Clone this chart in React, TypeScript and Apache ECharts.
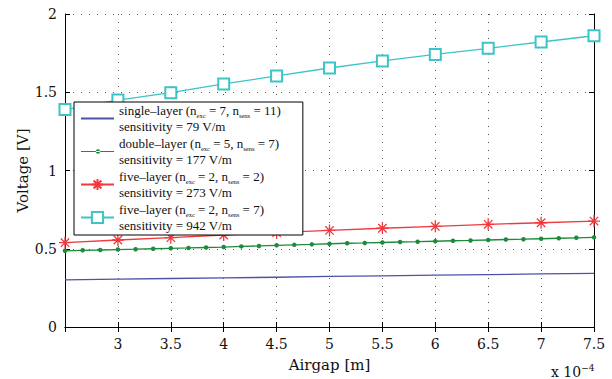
import React, { useEffect, useRef } from "react";
import * as echarts from "echarts";

const xMain = [2.5, 3, 3.5, 4, 4.5, 5, 5.5, 6, 6.5, 7, 7.5];
const xDense = [2.5, 2.667, 2.833, 3, 3.167, 3.333, 3.5, 3.667, 3.833, 4, 4.167, 4.333, 4.5, 4.667, 4.833, 5, 5.167, 5.333, 5.5, 5.667, 5.833, 6, 6.167, 6.333, 6.5, 6.667, 6.833, 7, 7.167, 7.333, 7.5];

const singleLayer = [0.301, 0.306, 0.310, 0.314, 0.318, 0.323, 0.327, 0.331, 0.335, 0.339, 0.343];
const doubleLayer = [0.487, 0.490, 0.492, 0.495, 0.497, 0.500, 0.503, 0.505, 0.508, 0.511, 0.515, 0.518, 0.522, 0.525, 0.528, 0.532, 0.535, 0.537, 0.540, 0.543, 0.545, 0.548, 0.551, 0.553, 0.556, 0.559, 0.561, 0.564, 0.567, 0.570, 0.573];
const fiveLayerA = [0.539, 0.556, 0.571, 0.588, 0.603, 0.617, 0.631, 0.643, 0.656, 0.666, 0.677];
const fiveLayerB = [1.389, 1.450, 1.497, 1.553, 1.604, 1.655, 1.700, 1.742, 1.781, 1.821, 1.861];

const legendLabels: Record<string, string> = {
  single: "{t|single–layer (n}{s|exc}{t| = 7, n}{s|sens}{t| = 11)}\n{t|sensitivity = 79 V/m}",
  double: "{t|double–layer (n}{s|exc}{t| = 5, n}{s|sens}{t| = 7)}\n{t|sensitivity = 177 V/m}",
  fiveA: "{t|five–layer (n}{s|exc}{t| = 2, n}{s|sens}{t| = 2)}\n{t|sensitivity = 273 V/m}",
  fiveB: "{t|five–layer (n}{s|exc}{t| = 2, n}{s|sens}{t| = 7)}\n{t|sensitivity = 942 V/m}",
};

const FONT = "'DejaVu Serif', serif";
const LFONT = "'Liberation Serif', serif";
const pairs = (xs: number[], ys: number[]) => xs.map((x, i) => [x, ys[i]]);

export default function App() {
  const ref = useRef<HTMLDivElement>(null);
  useEffect(() => {
    if (!ref.current) return;
    const chart = echarts.init(ref.current, null, { renderer: "svg" });
    const axisCommon = {
      axisLine: { show: true, lineStyle: { color: "#000", width: 1 } },
      axisTick: { show: true, inside: true, length: 5, lineStyle: { color: "#000" } },
    };
    chart.setOption({
      animation: false,
      backgroundColor: "#fff",
      textStyle: { fontFamily: FONT },
      grid: { left: 65, right: 18, top: 14, bottom: 52 },
      xAxis: [
        {
          type: "value",
          min: 2.5,
          max: 7.5,
          interval: 0.5,
          name: "Airgap [m]",
          nameLocation: "middle",
          nameGap: 30,
          nameMoveOverlap: false,
          nameTextStyle: { fontFamily: FONT, fontSize: 15, color: "#111" },
          ...axisCommon,
          axisLabel: {
            fontFamily: FONT,
            fontSize: 14,
            color: "#111",
            margin: 10,
            formatter: (v: number) => (v === 2.5 ? "" : String(v)),
          },
          splitLine: { show: true, lineStyle: { color: "#555", type: [1, 7], width: 1 } },
        },
        {
          type: "value",
          position: "top",
          min: 2.5,
          max: 7.5,
          interval: 0.5,
          ...axisCommon,
          axisLabel: { show: false },
          splitLine: { show: false },
        },
      ],
      yAxis: [
        {
          type: "value",
          min: 0,
          max: 2,
          interval: 0.5,
          name: "Voltage [V]",
          nameLocation: "middle",
          nameGap: 35,
          nameMoveOverlap: false,
          nameTextStyle: { fontFamily: FONT, fontSize: 15, color: "#111" },
          ...axisCommon,
          axisLabel: { fontFamily: FONT, fontSize: 14, color: "#111", margin: 8 },
          splitLine: { show: true, lineStyle: { color: "#555", type: [1, 7], width: 1 } },
        },
        {
          type: "value",
          position: "right",
          min: 0,
          max: 2,
          interval: 0.5,
          ...axisCommon,
          axisLabel: { show: false },
          splitLine: { show: false },
        },
      ],
      legend: {
        data: [
          { name: "single", itemStyle: { opacity: 0 } },
          {
            name: "double",
            icon: "path://M0,0M33,14M0,6.4L33,6.4L33,7.6L0,7.6Z M14.8,7a2.2,2.2 0 1,0 4.4,0a2.2,2.2 0 1,0 -4.4,0Z",
          },
          { name: "fiveA" },
          { name: "fiveB" },
        ],
        orient: "vertical",
        left: 74,
        top: 102,
        itemGap: 0,
        itemWidth: 33,
        itemHeight: 14,
        padding: [0, 22, 1, 6],
        backgroundColor: "#fff",
        borderColor: "#000",
        borderWidth: 1,
        borderRadius: 0,
        z: 10,
        formatter: (name: string) => legendLabels[name],
        textStyle: {
          fontFamily: LFONT,
          fontSize: 13,
          color: "#111",
          lineHeight: 16.5,
          rich: {
            t: { fontFamily: LFONT, fontSize: 13, color: "#111", lineHeight: 16.5 },
            s: { fontFamily: LFONT, fontSize: 6.5, color: "#111", lineHeight: 6, verticalAlign: "bottom" },
          },
        },
      },
      graphic: [
        {
          type: "text",
          left: 551,
          top: 363,
          style: {
            text: "{a|x 10}{b|−4}",
            rich: {
              a: { fontFamily: FONT, fontSize: 14, fill: "#111", lineHeight: 16, verticalAlign: "bottom" },
              b: { fontFamily: FONT, fontSize: 9, fill: "#111", lineHeight: 16, verticalAlign: "top" },
            },
          },
        },
      ],
      series: [
        {
          name: "single",
          type: "line",
          data: pairs(xMain, singleLayer),
          symbol: "none",
          clip: false,
          lineStyle: { color: "#4c52a8", width: 1.3 },
          itemStyle: { color: "#4c52a8" },
        },
        {
          name: "double",
          type: "line",
          data: pairs(xDense, doubleLayer),
          symbol: "circle",
          symbolSize: 4.5,
          clip: false,
          lineStyle: { color: "#1d8a3d", width: 1.3 },
          itemStyle: { color: "#1d8a3d" },
        },
        {
          name: "fiveA",
          type: "line",
          data: pairs(xMain, fiveLayerA),
          symbol: "path://M5,0L5,10M0,5L10,5M1.5,1.5L8.5,8.5M1.5,8.5L8.5,1.5",
          symbolSize: 12,
          clip: false,
          lineStyle: { color: "#f03a3e", width: 1.3 },
          itemStyle: { color: "#f03a3e", borderColor: "#f03a3e", borderWidth: 1.3 },
        },
        {
          name: "fiveB",
          type: "line",
          data: pairs(xMain, fiveLayerB),
          symbol: "emptyRect",
          symbolSize: 11,
          clip: false,
          lineStyle: { color: "#3cc4c6", width: 1.3 },
          itemStyle: { color: "#3cc4c6", borderColor: "#3cc4c6", borderWidth: 1.3 },
        },
      ],
    });
    return () => chart.dispose();
  }, []);
  return <div ref={ref} style={{ width: 612, height: 379, position: "absolute", left: 0, top: 0 }} />;
}
